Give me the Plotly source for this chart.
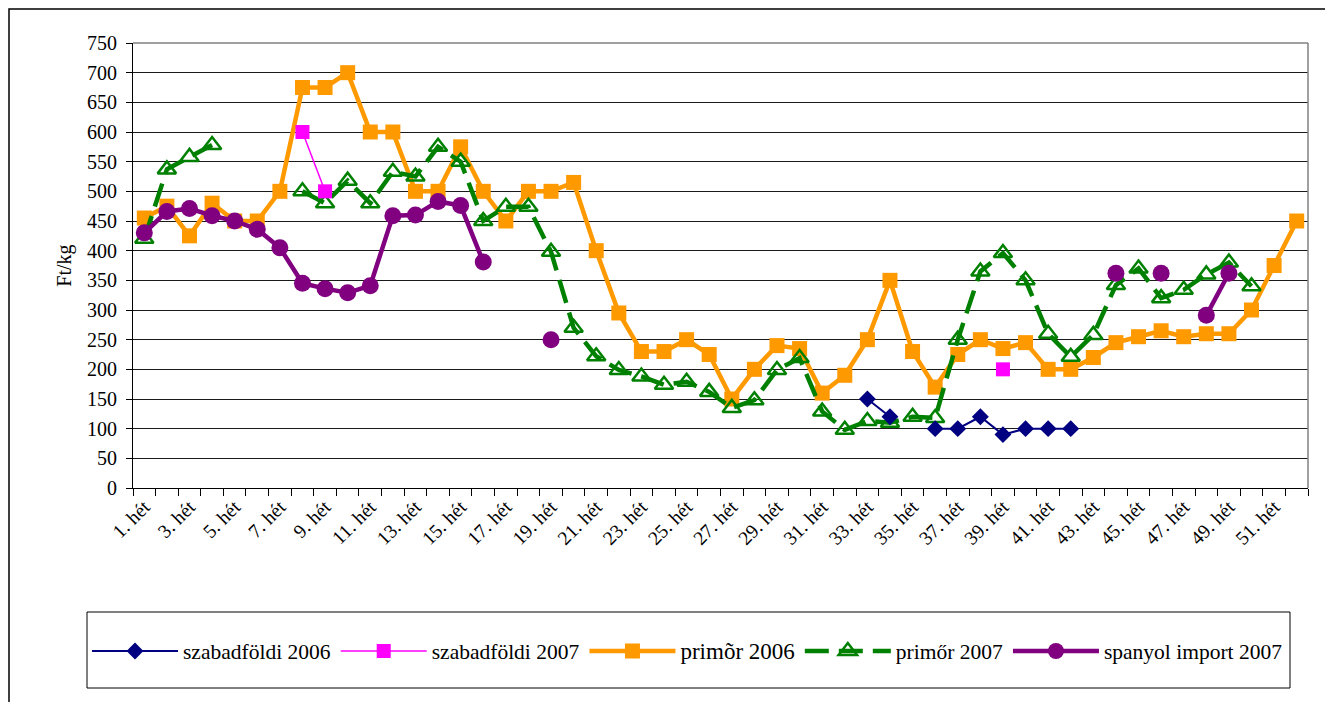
import plotly.graph_objects as go

weeks = list(range(1, 53))
tick_weeks = list(range(1, 53, 2))
tick_labels = [f"{w}. hét" for w in tick_weeks]

szabad_2006 = [None]*32 + [150, 120, None, 100, 100, 120, 90, 100, 100, 100] + [None]*10
szabad_2007 = [None]*7 + [600, 500] + [None]*29 + [200] + [None]*13
primor_2006 = [455, 475, 425, 480, 450, 450, 500, 675, 675, 700,
               600, 600, 500, 500, 575, 500, 450, 500, 500, 515,
               400, 295, 230, 230, 250, 225, 150, 200, 240, 235,
               160, 190, 250, 350, 230, 170, 225, 250, 235, 245,
               200, 200, 220, 245, 255, 265, 255, 260, 260, 300,
               375, 450]
primor_2007 = [420, 537, 558, 578, None, None, None, 500, 480, 518,
               480, 533, 525, 575, 550, 450, 474, 474, 398, 270,
               222, 199, 188, 174, 179, 162, 135, 148, 199, 219,
               129, 98, 113, 110, 120, 118, 250, 365, 396, 350,
               260, 221, 258, 342, 370, 320, 334, 360, 380, 340,
               None, None]
spanyol_2007 = [430, 466, 471, 459, 450, 436, 405, 345, 336, 329,
                341, 459, 460, 483, 476, 381, None, None, 250, None,
                None, None, None, None, None, None, None, None, None, None,
                None, None, None, None, None, None, None, None, None, None,
                None, None, None, 362, None, 362, None, 291, 362, None,
                None, None]

FONT = "Liberation Serif, Times New Roman, serif"

# plot area in reference pixels (page has an 8px body offset)
PL, PR, PT, PB = 133, 1308, 43, 488
OFF = 8
W, H = 1333, 702


def px(xr):
    return (xr - PL) / (PR - PL)


def py(yr):
    return (PB - yr) / (PB - PT)


fig = go.Figure()
fig.add_trace(go.Scatter(x=weeks, y=primor_2006, name="<span style='font-size:23px'>primõr 2006</span>",
                         mode="lines+markers", legendrank=3,
                         line=dict(color="#FF9900", width=4.5),
                         marker=dict(symbol="square", size=15, color="#FF9900")))
fig.add_trace(go.Scatter(x=weeks, y=primor_2007, name="primőr 2007",
                         mode="lines+markers", legendrank=4,
                         line=dict(color="#008000", width=4.5, dash="24px,10px"),
                         marker=dict(symbol="triangle-up-open", size=16, color="#008000",
                                     line=dict(width=2.5, color="#008000"))))
fig.add_trace(go.Scatter(x=weeks, y=szabad_2006, name="szabadföldi 2006",
                         mode="lines+markers", legendrank=1,
                         line=dict(color="#000080", width=2),
                         marker=dict(symbol="diamond", size=13, color="#000080")))
fig.add_trace(go.Scatter(x=weeks, y=spanyol_2007, name="spanyol import 2007",
                         mode="lines+markers", legendrank=5,
                         line=dict(color="#800080", width=4.5),
                         marker=dict(symbol="circle", size=17, color="#800080")))
fig.add_trace(go.Scatter(x=weeks, y=szabad_2007, name="szabadföldi 2007",
                         mode="lines+markers", legendrank=2,
                         line=dict(color="#FF00FF", width=1.5),
                         marker=dict(symbol="square", size=14, color="#FF00FF")))

fig.update_layout(
    width=W, height=H,
    margin=dict(l=PL - OFF, r=W - (PR - OFF), t=PT - OFF, b=H - (PB - OFF)),
    paper_bgcolor="white", plot_bgcolor="white",
    font=dict(family=FONT, color="black", size=20),
    showlegend=True,
    legend=dict(orientation="h", x=px(87), xanchor="left", y=py(651), yanchor="middle",
                font=dict(family=FONT, size=21.5, color="black"),
                itemwidth=86, bgcolor="rgba(0,0,0,0)", traceorder="normal"),
    xaxis=dict(range=[0.5, 52.5], tickmode="array", tickvals=tick_weeks, ticktext=tick_labels,
               tickangle=-45, ticks="", showgrid=False, zeroline=False,
               showline=True, linecolor="black", linewidth=1, ticklabelstandoff=-1,
               tickfont=dict(family=FONT, size=19.5, color="black"),
               minor=dict(tickmode="array", tickvals=[w + 0.5 for w in range(0, 53)],
                          ticks="outside", ticklen=7, tickcolor="black", showgrid=False)),
    yaxis=dict(range=[0, 750], tickmode="linear", tick0=0, dtick=50,
               ticks="outside", ticklen=6, tickcolor="black", ticklabelstandoff=5,
               showgrid=True, gridcolor="#1a1a1a", gridwidth=1, zeroline=False,
               showline=True, linecolor="black", linewidth=1,
               tickfont=dict(family=FONT, size=20, color="black"),
               title=dict(text="Ft/kg", font=dict(family=FONT, size=20, color="black"), standoff=10)),
    shapes=[
        dict(type="line", xref="paper", yref="paper", x0=0, x1=1, y0=1, y1=1,
             line=dict(color="#808080", width=1.5)),
        dict(type="line", xref="paper", yref="paper", x0=1, x1=1, y0=0, y1=1,
             line=dict(color="#808080", width=1.5)),
        dict(type="rect", xref="paper", yref="paper",
             x0=px(87), x1=px(1290), y0=py(688), y1=py(612),
             line=dict(color="black", width=1)),
        dict(type="rect", xref="paper", yref="paper",
             x0=px(OFF + 1), x1=px(1328), y0=py(715), y1=py(OFF + 1),
             line=dict(color="black", width=1.5)),
    ],
)

fig.write_html("out.html")
